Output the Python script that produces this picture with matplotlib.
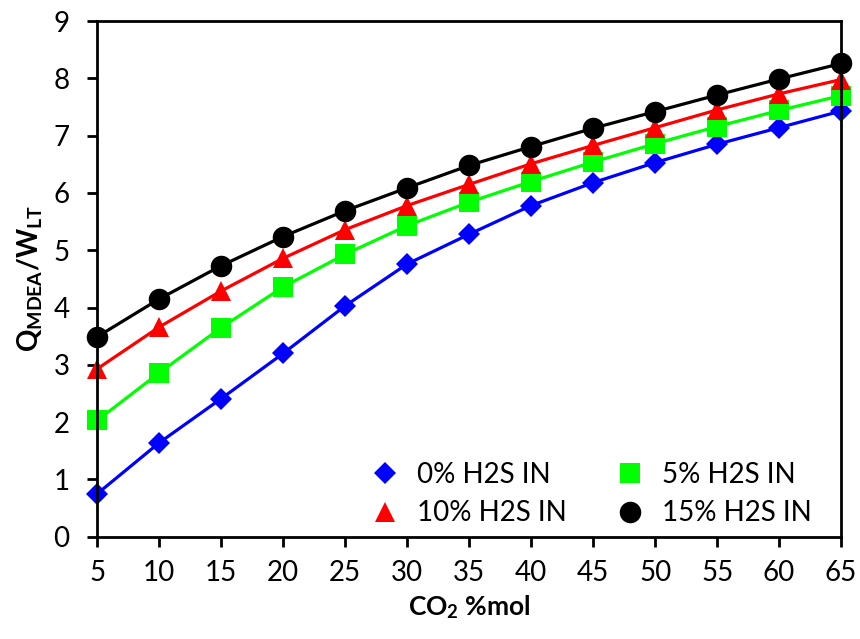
import numpy as np
import matplotlib
matplotlib.use("Agg")
import matplotlib.pyplot as plt
from matplotlib.lines import Line2D

plt.rcParams['font.family'] = ['Lato', 'DejaVu Sans']
plt.rcParams['mathtext.fontset'] = 'custom'
plt.rcParams['mathtext.rm'] = 'Lato'
plt.rcParams['mathtext.bf'] = 'Lato:bold'
plt.rcParams['mathtext.it'] = 'Lato:italic'

co2 = [5, 10, 15, 20, 25, 30, 35, 40, 45, 50, 55, 60, 65]
h2s_0 = [0.75, 1.64, 2.41, 3.20, 4.03, 4.76, 5.28, 5.78, 6.18, 6.53, 6.85, 7.14, 7.43]
h2s_5 = [2.03, 2.86, 3.65, 4.36, 4.93, 5.43, 5.84, 6.20, 6.54, 6.86, 7.16, 7.44, 7.70]
h2s_10 = [2.93, 3.66, 4.29, 4.86, 5.36, 5.78, 6.15, 6.51, 6.83, 7.14, 7.45, 7.73, 7.98]
h2s_15 = [3.49, 4.15, 4.73, 5.24, 5.69, 6.09, 6.48, 6.81, 7.13, 7.42, 7.71, 7.99, 8.26]

series = [
    ("0% H2S IN", h2s_0, "#0000FF", "D", 11),
    ("5% H2S IN", h2s_5, "#00FF00", "s", 15),
    ("10% H2S IN", h2s_10, "#FF0000", "^", 15),
    ("15% H2S IN", h2s_15, "#000000", "o", 15.5),
]

fig = plt.figure(figsize=(8.6, 6.39), dpi=100)
ax = fig.add_axes([0.113, 0.160, 0.865, 0.807])

handles = {}
for name, vals, col, mk, ms in series:
    ax.plot(co2, vals, color=col, lw=2.3, marker=mk, markersize=ms,
            markeredgewidth=0, clip_on=False)
    handles[name] = Line2D([], [], color=col, marker=mk, markersize=ms,
                           markeredgewidth=0, linestyle="none")

ax.set_xlim(5, 65)
ax.set_ylim(0, 9)
ax.set_xticks(np.arange(5, 66, 5))
ax.set_yticks(np.arange(0, 10, 1))
for s in ax.spines.values():
    s.set_linewidth(2)
ax.tick_params(direction="out", length=7, width=2, labelsize=20)
ax.tick_params(axis="x", pad=10)
ax.tick_params(axis="y", pad=13)

ax.set_xlabel(r"CO$_\mathbf{2}$ %mol", fontsize=19, fontweight="bold", labelpad=5)
ax.set_ylabel(r"$\mathbf{Q_{MDEA}/W_{LT}}$", fontsize=20, labelpad=6)

order = ["0% H2S IN", "10% H2S IN", "5% H2S IN", "15% H2S IN"]
ax.legend([handles[k] for k in order], order, ncol=2, frameon=False,
          fontsize=20, loc="lower right", bbox_to_anchor=(0.96, 0.02),
          borderaxespad=0, borderpad=0,
          handletextpad=0.4, columnspacing=1.5, labelspacing=0.45,
          handlelength=1.5)

fig.savefig("out.png", dpi=100)
